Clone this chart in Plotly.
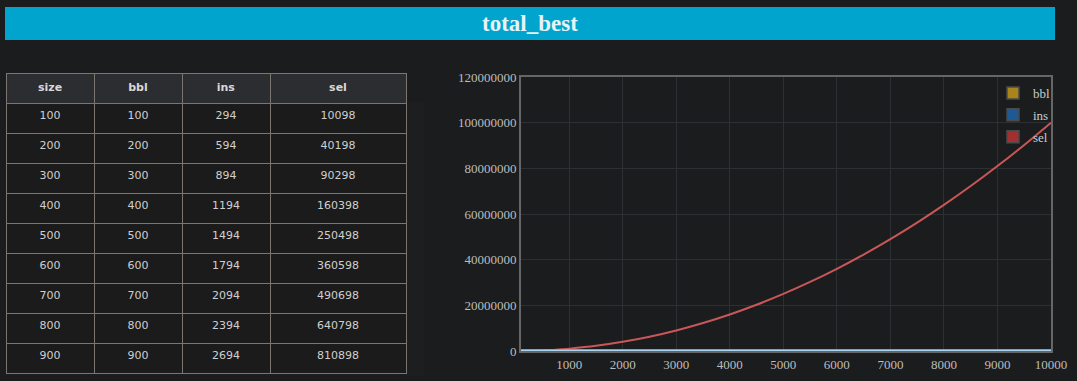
import plotly.graph_objects as go

# ---- data ----
table_size = [100, 200, 300, 400, 500, 600, 700, 800, 900]
table_bbl = [100, 200, 300, 400, 500, 600, 700, 800, 900]
table_ins = [294, 594, 894, 1194, 1494, 1794, 2094, 2394, 2694]
table_sel = [10098, 40198, 90298, 160398, 250498, 360598, 490698, 640798, 810898]

chart_size = [100, 200, 300, 400, 500, 600, 700, 800, 900, 1000, 1500, 2000, 2500,
              3000, 3500, 4000, 4500, 5000, 5500, 6000, 6500, 7000, 7500, 8000,
              8500, 9000, 9500, 10000]
chart_bbl = [100, 200, 300, 400, 500, 600, 700, 800, 900, 1000, 1500, 2000, 2500,
             3000, 3500, 4000, 4500, 5000, 5500, 6000, 6500, 7000, 7500, 8000,
             8500, 9000, 9500, 10000]
chart_ins = [294, 594, 894, 1194, 1494, 1794, 2094, 2394, 2694, 2994, 4494, 5994,
             7494, 8994, 10494, 11994, 13494, 14994, 16494, 17994, 19494, 20994,
             22494, 23994, 25494, 26994, 28494, 29994]
chart_sel = [10098, 40198, 90298, 160398, 250498, 360598, 490698, 640798, 810898,
             1000998, 2251498, 4001998, 6252498, 9002998, 12253498, 16003998,
             20254498, 25004998, 30255498, 36005998, 42256498, 49006998, 56257498,
             64007998, 72258498, 81008998, 90259498, 100009998]

columns = ["size", "bbl", "ins", "sel"]
series_names = ["bbl", "ins", "sel"]
y_ticks = [0, 20000000, 40000000, 60000000, 80000000, 100000000, 120000000]

W, H = 1077, 381
BG = "#1b1c1e"

def py(p):
    return 1 - p / H

def px(p):
    return p / W

fig = go.Figure()

fig.add_trace(go.Table(
    domain=dict(x=[px(6), px(406)], y=[py(376), py(73)]),
    columnwidth=[88, 88, 88, 136],
    header=dict(
        values=["<b>%s</b>" % c for c in columns],
        fill_color="#2b2d31",
        line=dict(color="#7b7770", width=1),
        font=dict(family="DejaVu Sans", size=11, color="#d8d8d8"),
        align="center",
        height=30,
    ),
    cells=dict(
        values=[table_size, table_bbl, table_ins, table_sel],
        fill_color="#1b1b1b",
        line=dict(color="#7b7770", width=1),
        font=dict(family="DejaVu Sans", size=11, color="#cfcfcf"),
        align="center",
        height=30,
    ),
))

line_colors = {"bbl": "#d8b23a", "ins": "#a9d3f0", "sel": "#c95757"}
swatch_colors = {"bbl": "#a8841a", "ins": "#1d5a93", "sel": "#a33030"}
series_vals = {"bbl": chart_bbl, "ins": chart_ins, "sel": chart_sel}

for name in ["bbl", "sel", "ins"]:
    fig.add_trace(go.Scatter(
        x=chart_size, y=series_vals[name], mode="lines", name=name,
        line=dict(color=line_colors[name], width=3 if name != "sel" else 2, shape="spline"),
        showlegend=False, hoverinfo="skip",
    ))

for name in series_names:
    fig.add_trace(go.Bar(
        x=[None], y=[None], name=name, legendgroup=name,
        marker=dict(color=swatch_colors[name], line=dict(color="#4a4a4a", width=1.5)),
        showlegend=True,
    ))

axis_font = dict(family="Liberation Serif", size=13, color="#bdbdbd")

fig.update_layout(
    width=W, height=H,
    margin=dict(l=0, r=0, t=0, b=0),
    paper_bgcolor=BG,
    plot_bgcolor=BG,
    xaxis=dict(
        domain=[px(521), px(1051)],
        range=[100, 10000],
        tick0=0, dtick=1000,
        tickformat="d",
        showgrid=True, gridcolor="#2e2f33", gridwidth=1,
        showline=True, mirror=True, linecolor="#666666", linewidth=2,
        zeroline=False, automargin=False,
        ticks="", tickfont=axis_font,
        fixedrange=True,
    ),
    yaxis=dict(
        domain=[py(351), py(77)],
        range=[0, 120000000],
        tickvals=y_ticks,
        tickformat="d",
        showgrid=True, gridcolor="#2e2f33", gridwidth=1,
        showline=True, mirror=True, linecolor="#666666", linewidth=2,
        zeroline=False, automargin=False,
        ticks="", tickfont=axis_font,
        fixedrange=True,
    ),
    legend=dict(
        x=px(993), y=py(78), xanchor="left", yanchor="top",
        bgcolor="rgba(0,0,0,0)",
        font=dict(family="Liberation Serif", size=13, color="#cccccc"),
        itemwidth=30, tracegroupgap=2,
    ),
    shapes=[dict(
        type="rect", xref="paper", yref="paper",
        x0=px(5), x1=px(1055), y0=py(40), y1=py(7),
        fillcolor="#00a4cc", line=dict(width=0), layer="below",
    )],
    annotations=[dict(
        text="<b>total_best</b>", xref="paper", yref="paper",
        x=px(530), y=py(23.5), xanchor="center", yanchor="middle",
        showarrow=False,
        font=dict(family="Liberation Serif", size=23, color="#e6f3f7"),
    )],
)

fig.write_html("out.html", config={"displayModeBar": False},
               post_script="document.body.style.margin='0px';")
